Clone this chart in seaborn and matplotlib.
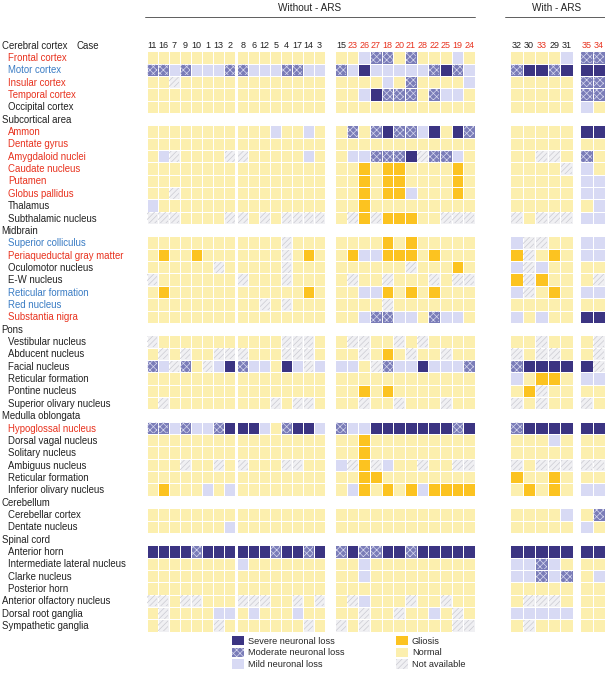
import numpy as np
import pandas as pd
import matplotlib
matplotlib.use('Agg')
import matplotlib.pyplot as plt
import matplotlib.transforms as mtrans
from matplotlib.colors import ListedColormap
from matplotlib.patches import Patch, Rectangle
from matplotlib.lines import Line2D
import seaborn as sns

sns.set_theme(style='white')
plt.rcParams['font.family'] = ['Liberation Sans', 'DejaVu Sans']
plt.rcParams['hatch.linewidth'] = 0.5

# ---- data ---------------------------------------------------------------
region_labels = [
    'Cerebral cortex', 'Frontal cortex', 'Motor cortex', 'Insular cortex', 'Temporal cortex', 'Occipital cortex',
    'Subcortical area', 'Ammon', 'Dentate gyrus', 'Amygdaloid nuclei', 'Caudate nucleus', 'Putamen',
    'Globus pallidus', 'Thalamus', 'Subthalamic nucleus',
    'Midbrain', 'Superior colliculus', 'Periaqueductal gray matter', 'Oculomotor nucleus', 'E-W nucleus',
    'Reticular formation', 'Red nucleus', 'Substantia nigra',
    'Pons', 'Vestibular nucleus', 'Abducent nucleus', 'Facial nucleus', 'Reticular formation',
    'Pontine nucleus', 'Superior olivary nucleus',
    'Medulla oblongata', 'Hypoglossal nucleus', 'Dorsal vagal nucleus', 'Solitary nucleus',
    'Ambiguus nucleus', 'Reticular formation', 'Inferior olivary nucleus',
    'Cerebellum', 'Cerebellar cortex', 'Dentate nucleus',
    'Spinal cord', 'Anterior horn', 'Intermediate lateral nucleus', 'Clarke nucleus', 'Posterior horn',
    'Anterior olfactory nucleus', 'Dorsal root ganglia', 'Sympathetic ganglia',
]
# 0 = section heading / top level, 1 = indented sub-region
label_indent = [0, 1, 1, 1, 1, 1,
                0, 1, 1, 1, 1, 1, 1, 1, 1,
                0, 1, 1, 1, 1, 1, 1, 1,
                0, 1, 1, 1, 1, 1, 1,
                0, 1, 1, 1, 1, 1, 1,
                0, 1, 1,
                0, 1, 1, 1, 1,
                0, 0, 0]
# k = black, r = red, b = blue
label_colors = list('krbrrk' 'krrrrrrkk' 'kbrkkbbr' 'kkkkkkk' 'krkkkkk' 'kkk' 'kkkkk' 'kkk')

cases_g1 = [11, 16, 7, 9, 10, 1, 13, 2, 8, 6, 12, 5, 4, 17, 14, 3]
cases_g2 = [15, 23, 26, 27, 18, 20, 21, 28, 22, 25, 19, 24]
cases_g3 = [32, 30, 33, 29, 31]
cases_g4 = [35, 34]
red_cases = [23, 26, 27, 18, 20, 21, 28, 22, 25, 19, 24, 33, 35, 34]

# N normal, M mild, D moderate, S severe neuronal loss, G gliosis, X not available, '' = heading row
codes_g1 = [
    '', 'NNNNNNNNNNNNNNNN', 'DDMDMMMDDMMMDDMM', 'NNXNNNNNNNNNNNNN', 'NNNNNNNNNNNNNNNN', 'NNNNNNNNNNNNNNNN',
    '', 'NNNNNNNNNNNMNNMN', 'NNNNNNNNNNNNNNNN', 'NMXNNNNXXNNNNNMN', 'NNNNNNNNNNNNNNNN', 'NNNNNNNNNNNNNNNN',
    'NNXNNNNNNNNNNNNN', 'MNNNNNNNNNNNNNNN', 'XXXNNNNXXNXNXXXX',
    '', 'NNNNNNNNNNNNXNNN', 'NGNNGNNNNNNNXNGN', 'NNNNNNXNNNNNXNNN', 'XNNNNNNNXNNNXNNN',
    'NGNNNNNNNNNNNNGN', 'NNNNNNNNNNXNXNNN', 'NNNNNNNNNNNNNNNN',
    '', 'XNNNNNNNNNNNXXXN', 'NXNXNNXXXNNNXXXN', 'DMXDNXMSDMMNSMXM', 'NNNNNNNNNNNNNNNN',
    'NNNNNNNNNNNNNNNN', 'NXNNNNNNNNNXNXXN',
    '', 'DDMDMMDSSSMNDSSM', 'NNNNNNNNNNNNNNNN', 'NNNNNNNNNNNNNNNN', 'NNNXNNXNXNNNXXNN',
    'NNNNNNNNNNNNNNNN', 'NGNNNMNMNNNNNNNN',
    '', 'NNNNNNNNNNNNNNNN', 'NNNNNNNMNNNNNNNN',
    '', 'SSSSDSSSSSSDSSDS', 'NNNNNNNNMNNNNNNN', 'NNNNNNNNNNNNNNNN', 'NNNNNNNNNNNNNNNN',
    'XXNXXNNNXXXNNXNX', 'NXNNNNMMNMNNNMNN', 'NXNNNNXNNNNNNNXN',
]
codes_g2 = [
    '', 'NNMDDNDNNNMN', 'DMSMMMMMDSDM', 'NNNNMNDNNNNM', 'NNMSDDDNDMMN', 'NNNNNNNNNNNN',
    '', 'NDNDSDDMSNSD', 'NNNNNNNNNNNN', 'NMMDDDSXDDMN', 'NNGNGGNNNNGN', 'NNGNGGNNNNGN',
    'NNGNGGMNNNGN', 'NNGNNNNNNNNN', 'NXGXGGGNNXXX',
    '', 'NNNNGNGNNNNN', 'NGMMGGGNGNNN', 'NNNNNNXNNNGN', 'NXNNXNNNXNXX',
    'NNMMGNGNGNNN', 'NNNNXNNNNNNN', 'NNMDDMMNDMMN',
    '', 'NXXNNXNXNNNN', 'NNXNGNXNNXNN', 'MMNXDMMSMMMD', 'NNNNNNNNNNNN',
    'NNGNGNNNNNNN', 'NNXNNXNNNXNN',
    '', 'DMMSSSSSSSDS', 'NNGNNNNNNNNN', 'NNGNNNNNNNNN', 'MXGXMNNXNNXX',
    'NNGGNNNNNNNN', 'NMGNGNGMGGGG',
    '', 'NNNNNNNNNNNN', 'NNNNNNNNNNNN',
    '', 'DSDDSSDSSSSS', 'NNMNNNNNNNNN', 'NNMNNNNNNNNN', 'NNNNNNNNNNNN',
    'NXMNNNXNNXNN', 'NNXNNXNNMNXN', 'XNXNNNNNNNXX',
]
codes_g3 = [
    '', 'NNNNM', 'DSSDS', 'NNNNN', 'NNNNN', 'NNNNN',
    '', 'NNNNN', 'NNNNN', 'NNXXN', 'NNNNX', 'NNNNN', 'NNNNN', 'NNNNN', 'XNXXX',
    '', 'MXXNN', 'GXNGN', 'MXMNN', 'GXGNN', 'MXNGN', 'NNNNN', 'MNMNN',
    '', 'NNXNN', 'XNXXN', 'DSSSS', 'MNGGN', 'NGXNN', 'XNXNN',
    '', 'DSSSS', 'NNNMN', 'NNNNN', 'XNXXX', 'GNNGN', 'NGNGN',
    '', 'NNNNM', 'NNNNN',
    '', 'SSSSS', 'MMDMN', 'MMDMD', 'NNNNN',
    'NXXXN', 'MMMMM', 'NXNNN',
]
codes_g4 = [
    '', 'DD', 'SS', 'DD', 'DD', 'MN',
    '', 'SS', 'NN', 'DN', 'MN', 'MM', 'MM', 'NM', 'MM',
    '', 'MM', 'MM', 'NN', 'NX', 'MM', 'NN', 'SS',
    '', 'NX', 'NX', 'SX', 'MM', 'NN', 'XN',
    '', 'SS', 'NN', 'NN', 'XX', 'NN', 'MM',
    '', 'ND', 'MN',
    '', 'SS', 'NN', 'NM', 'NN',
    'NN', 'NN', 'NN',
]

# ---- styling ------------------------------------------------------------
code_map = {'N': 0, 'M': 1, 'D': 2, 'S': 3, 'G': 4, 'X': 5}
colors = ['#fcefae', '#d8daf4', '#7a7cb8', '#3b3482', '#fcc320', '#f0f0f3']
cmap = ListedColormap(colors)
W, H = 605, 686
FS = 6.9


def to_frame(codes, cases):
    rows = []
    for s in codes:
        if s == '':
            rows.append([np.nan] * len(cases))
        else:
            rows.append([code_map[c] for c in s])
    return pd.DataFrame(rows, index=region_labels, columns=cases)


def draw_block(df, left_px, right_px):
    top_px, bot_px = 38.8, 631.7
    ax = fig.add_axes([left_px / W, 1 - bot_px / H, (right_px - left_px) / W, (bot_px - top_px) / H])
    sns.heatmap(df, ax=ax, cmap=cmap, vmin=-0.5, vmax=5.5, cbar=False,
                linewidths=0.7, linecolor='white', xticklabels=False, yticklabels=False)
    vals = df.values
    for i in range(vals.shape[0]):
        for j in range(vals.shape[1]):
            if vals[i, j] == 2:
                ax.add_patch(Rectangle((j + 0.06, i + 0.06), 0.88, 0.88, fill=False,
                                       hatch='xxxxx', edgecolor='#d6d7ee', lw=0))
            elif vals[i, j] == 5:
                ax.add_patch(Rectangle((j + 0.06, i + 0.06), 0.88, 0.88, fill=False,
                                       hatch='//////', edgecolor='#cacad2', lw=0))
    for j, c in enumerate(df.columns):
        ax.text(j + 0.5, 0.55, str(c), ha='center', va='center', fontsize=6.5,
                color='#e8321e' if c in red_cases else '#222222')
    ax.axis('off')
    return ax


fig = plt.figure(figsize=(W / 100, H / 100), dpi=100)

g1 = to_frame(codes_g1, cases_g1)
g2 = to_frame(codes_g2, cases_g2)
g3 = to_frame(codes_g3, cases_g3)
g4 = to_frame(codes_g4, cases_g4)

ax0 = draw_block(g1.iloc[:, :8], 146.5, 235.3)
draw_block(g1.iloc[:, 8:], 237.3, 325)
draw_block(g2, 335, 475)
draw_block(g3, 510, 573)
draw_block(g4, 580, 605)

# row labels
trans = mtrans.blended_transform_factory(fig.transFigure, ax0.transData)
cmap_lbl = {'k': '#222222', 'r': '#e8321e', 'b': '#3a7cc4'}
for i, (lbl, ind, col) in enumerate(zip(region_labels, label_indent, label_colors)):
    x = (8 if ind else 1.5) / W
    ax0.text(x, i + 0.55, lbl, transform=trans, ha='left', va='center',
             fontsize=FS, color=cmap_lbl[col])
ax0.text(77 / W, 0.55, 'Case', transform=trans, ha='left', va='center', fontsize=FS, color='#222222')

# group headers
fig.text(310 / W, 1 - 8 / H, 'Without - ARS', ha='center', va='center', fontsize=7.2, color='#222222')
fig.add_artist(Line2D([145 / W, 475 / W], [1 - 17 / H] * 2, color='#444444', lw=0.6))
fig.text(557 / W, 1 - 8 / H, 'With - ARS', ha='center', va='center', fontsize=7.2, color='#222222')
fig.add_artist(Line2D([505 / W, 605 / W], [1 - 17 / H] * 2, color='#444444', lw=0.6))

# legend
handles = [
    Patch(facecolor=colors[3], lw=0, label='Severe neuronal loss'),
    Patch(facecolor=colors[2], edgecolor='#d6d7ee', hatch='xxxxx', lw=0, label='Moderate neuronal loss'),
    Patch(facecolor=colors[1], lw=0, label='Mild neuronal loss'),
    Patch(facecolor=colors[4], lw=0, label='Gliosis'),
    Patch(facecolor=colors[0], lw=0, label='Normal'),
    Patch(facecolor=colors[5], edgecolor='#cacad2', hatch='//////', lw=0, label='Not available'),
]
fig.legend(handles=handles, loc='upper left', bbox_to_anchor=(232 / W, 1 - 636 / H), ncol=2,
           frameon=False, fontsize=6.6, handlelength=1.3, handleheight=1.2, handletextpad=0.45,
           labelspacing=0.2, columnspacing=5.6, borderpad=0, borderaxespad=0)

fig.savefig('out.png', dpi=100)
